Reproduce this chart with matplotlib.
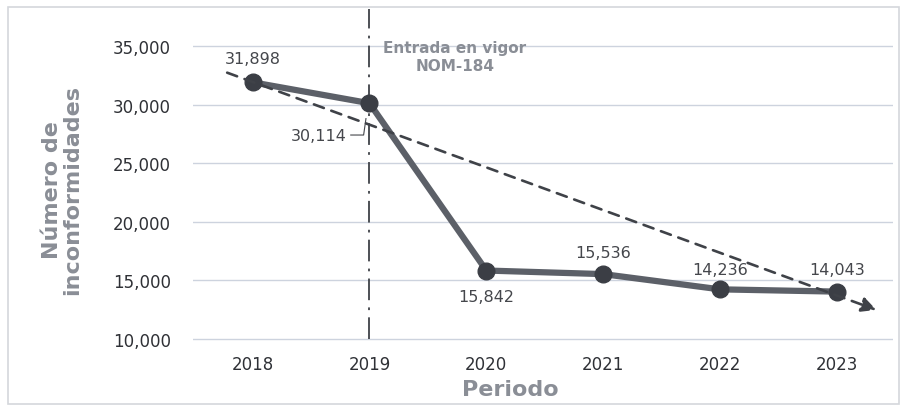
import matplotlib.pyplot as plt
from matplotlib.patches import Rectangle

# Data
years = ['2018', '2019', '2020', '2021', '2022', '2023']
values = [31898, 30114, 15842, 15536, 14236, 14043]
labels = ['31,898', '30,114', '15,842', '15,536', '14,236', '14,043']
# hand-drawn trend arrow (start / end in data coords)
trend_x = [-0.24, 5.36]
trend_y = [32800, 12400]
event_year = 1  # 2019

plt.rcParams['font.family'] = ['DejaVu Sans']

fig = plt.figure(figsize=(9.07, 4.10), dpi=100)
ax = fig.add_axes([193 / 907, 1 - 342 / 410, 700 / 907, 332 / 410])

x = list(range(len(years)))
ax.plot(x, values, color='#5c6068', lw=4.5, solid_capstyle='round', zorder=3)
ax.plot(x, values, 'o', ms=12, color='#3b3e45', zorder=4)

# trend arrow
ax.annotate('', xy=(trend_x[1], trend_y[1]), xytext=(trend_x[0], trend_y[0]),
            arrowprops=dict(arrowstyle='-|>', color='#3f4248', lw=1.9,
                            linestyle=(0, (4, 3)), mutation_scale=22),
            zorder=5)

# event line
ax.plot([event_year, event_year], [10000, 38150], color='#3f4248', lw=1.3,
        linestyle=(0, (12, 4, 1.5, 4)), zorder=2)
ax.text(event_year + 0.73, 34100, 'Entrada en vigor\nNOM-184', ha='center', va='center',
        fontsize=11, fontweight='bold', color='#8a8e96', linespacing=1.25)

# data labels
lbl_kw = dict(fontsize=11.5, color='#45474c', ha='center')
ax.text(0, 33300, labels[0], va='bottom', **lbl_kw)
ax.text(1 - 0.43, 27400, labels[1], va='center', **lbl_kw)
ax.plot([1 - 0.16, 1 - 0.05, 1 - 0.03], [27400, 27400, 28800], color='#45474c', lw=0.8)
ax.text(2, 14300, labels[2], va='top', **lbl_kw)
ax.text(3, 16700, labels[3], va='bottom', **lbl_kw)
ax.text(4, 15300, labels[4], va='bottom', **lbl_kw)
ax.text(5, 15300, labels[5], va='bottom', **lbl_kw)

ax.set_xlim(-0.51, 5.48)
ax.set_ylim(9830, 38150)
ax.set_yticks([10000, 15000, 20000, 25000, 30000, 35000])
ax.set_yticklabels(['10,000', '15,000', '20,000', '25,000', '30,000', '35,000'])
ax.set_xticks(x)
ax.set_xticklabels(years)
ax.tick_params(length=0, labelsize=12, colors='#2f3136', pad=10)
ax.tick_params(axis='y', pad=16)
ax.grid(axis='y', color='#cdd3de', lw=1)
ax.set_axisbelow(True)
for s in ax.spines.values():
    s.set_visible(False)

fig.text(510 / 907, 1 - 390 / 410, 'Periodo', ha='center', va='center',
         fontsize=16, fontweight='bold', color='#8a8e96')
fig.text(62 / 907, 1 - 190 / 410, 'Número de\ninconformidades', ha='center', va='center',
         rotation=90, fontsize=16, fontweight='bold', color='#8a8e96', linespacing=1.05)

fig.patches.append(Rectangle((8 / 907, 1 - 405 / 410), 891 / 907, 397 / 410,
                             transform=fig.transFigure, fill=False,
                             edgecolor='#d4d7dc', lw=1.2))

fig.savefig('out.png', dpi=100)
